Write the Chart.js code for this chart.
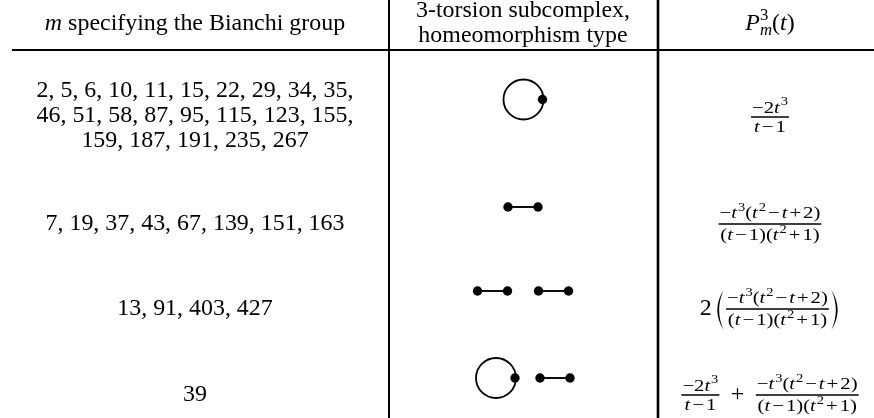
<!DOCTYPE html>
<html>
<head>
<meta charset="utf-8">
<script src="https://cdn.jsdelivr.net/npm/chart.js@4.4.1/dist/chart.umd.min.js"></script>
<style>
  html, body { margin: 0; padding: 0; background: #fff; }
  #wrap { width: 874px; height: 418px; }
</style>
</head>
<body>
<div id="wrap"><canvas id="myChart"></canvas></div>
<script>
// table content
const columnTitles = [
    ["$m$ specifying the Bianchi group"],
    ["3-torsion subcomplex,", "homeomorphism type"],
    ["$P_m^3(t)$"],
];
const bianchiM = [
    ["2, 5, 6, 10, 11, 15, 22, 29, 34, 35,", "46, 51, 58, 87, 95, 115, 123, 155,", "159, 187, 191, 235, 267"],
    ["7, 19, 37, 43, 67, 139, 151, 163"],
    ["13, 91, 403, 427"],
    ["39"],
];
const torsionTypes = [["loop"], ["edge"], ["edge", "edge"], ["loop", "edge"]];
const fracA = ["−2t^3", "t−1"];
const fracB = ["−t^3(t^2−t+2)", "(t−1)(t^2+1)"];
const poincareSeries = [
    [{ frac: fracA }],
    [{ frac: fracB }],
    [{ text: "2" }, { paren: fracB }],
    [{ frac: fracA }, { op: "+" }, { frac: fracB }],
];

// layout (in scale units, the scales run 0..874 and 0..418)
const W = 874, H = 418;
const L = {
    colRuleX: [389, 658],
    colRuleWidth: [2, 2.6],
    headRuleY: 50,
    headRuleX0: 12,
    colCenter: [195, 523, 770],
    headBaselines: [[30], [17, 42], [30]],
    rowTextBaselines: [[97, 122, 147], [230], [315], [401]],
    rowGraphY: [99.5, 207, 291, 378],
    rowBarY: [117, 224, 309, 395],
    loopR: 20,
    edgeLen: 30,
    gapAfter: { loop: 25, edge: 31 },
};
const MAIN = { size: 23, hs: 1.04, opPad: 0 };
const FR = { size: 17, hs: 1.22, opPad: 2, barPad: 1, nds: 1.5 };
const FONT = '"Liberation Serif", "Times New Roman", serif';

function fontOf(size, italic) {
    return (italic ? "italic " : "") + size + "px " + FONT;
}

// very small TeX-ish parser: $...$ is math, ^x sup, _x sub
function tokens(src, math) {
    const out = [];
    let i = 0;
    while (i < src.length) {
        let c = src[i];
        let level = 0;
        if (math && (c === "^" || c === "_")) {
            level = c === "^" ? 1 : -1;
            i++;
            c = src[i];
        }
        const prev = src[i - 1];
        out.push({
            ch: c,
            italic: math && /[A-Za-z]/.test(c),
            level: level,
            op: math && level === 0 && (c === "−" || c === "+") && i > 0 && prev !== "(",
        });
        i++;
    }
    return out;
}

function parseRich(src) {
    let res = [];
    src.split("$").forEach((p, k) => { res = res.concat(tokens(p, k % 2 === 1)); });
    return res;
}

function layoutRich(ctx, runs, size, hs, opPad) {
    const out = [];
    let x = 0;
    runs.forEach((r, k) => {
        const s = r.level ? size * 0.7 : size;
        ctx.font = fontOf(s, r.italic);
        const w = ctx.measureText(r.ch).width * hs;
        const prev = out[k - 1];
        if (r.level === 1 && prev && prev.level === -1) {
            out.push(Object.assign({}, r, { s: s, x: prev.x, dy: -size * 0.42 }));
            x = Math.max(x, prev.x + w);
            return;
        }
        const dy = r.level === 1 ? -size * 0.42 : r.level === -1 ? size * 0.22 : 0;
        if (r.level === 1 && prev && prev.italic && !prev.level) x += size * 0.05;
        const pad = r.op ? opPad : 0;
        out.push(Object.assign({}, r, { s: s, x: x + pad, dy: dy }));
        x += w + 2 * pad;
    });
    return { runs: out, width: x };
}

function drawRich(ctx, src, cx, base, st) {
    const lay = layoutRich(ctx, parseRich(src), st.size, st.hs, st.opPad);
    const x0 = cx - lay.width / 2;
    lay.runs.forEach(r => {
        ctx.font = fontOf(r.s, r.italic);
        ctx.save();
        ctx.translate(x0 + r.x, base + r.dy);
        ctx.scale(st.hs, 1);
        ctx.fillText(r.ch, 0, 0);
        ctx.restore();
    });
    return lay.width;
}

function fracParts(ctx, fr) {
    const num = layoutRich(ctx, parseRich("$" + fr[0] + "$"), FR.size, FR.hs, FR.opPad);
    const den = layoutRich(ctx, parseRich("$" + fr[1] + "$"), FR.size, FR.hs, FR.opPad);
    const hasParenNum = /[()]/.test(fr[0]);
    const supDen = /\^/.test(fr[1]);
    return {
        barW: Math.max(num.width, den.width) + 2 * FR.barPad,
        numShift: hasParenNum ? 6 : 4.5,
        denShift: supDen ? 16 : 15,
    };
}

function fracWidth(ctx, fr) {
    return fracParts(ctx, fr).barW + 2 * FR.nds;
}

function drawFrac(ctx, fr, left, bar) {
    const p = fracParts(ctx, fr);
    const cx = left + FR.nds + p.barW / 2;
    drawRich(ctx, "$" + fr[0] + "$", cx, bar - p.numShift, FR);
    drawRich(ctx, "$" + fr[1] + "$", cx, bar + p.denShift, FR);
    ctx.lineWidth = 1.3;
    ctx.beginPath();
    ctx.moveTo(left + FR.nds, bar);
    ctx.lineTo(left + FR.nds + p.barW, bar);
    ctx.stroke();
}

function drawParen(ctx, x, bar, left) {
    const w = 9, top = bar - 19, bot = bar + 21, mid = (top + bot) / 2;
    const sgn = left ? 1 : -1;
    const edge = left ? x + w : x;
    ctx.beginPath();
    ctx.moveTo(edge, top);
    ctx.quadraticCurveTo(edge - sgn * w * 1.4, mid, edge, bot);
    ctx.quadraticCurveTo(edge - sgn * w * 1.0, mid, edge, top);
    ctx.fill();
}

function itemWidth(ctx, it) {
    if (it.frac) return fracWidth(ctx, it.frac);
    if (it.paren) return 3 + 9 + 1 + fracWidth(ctx, it.paren) + 1 + 9;
    ctx.font = fontOf(MAIN.size, false);
    const w = ctx.measureText(it.text || it.op).width * MAIN.hs;
    return it.op ? w + 20 : w;
}

function drawFormula(ctx, items, cx, bar) {
    const widths = items.map(it => itemWidth(ctx, it));
    let x = cx - widths.reduce((a, b) => a + b, 0) / 2;
    items.forEach((it, i) => {
        if (it.frac) drawFrac(ctx, it.frac, x, bar);
        else if (it.paren) {
            drawParen(ctx, x + 3, bar, true);
            drawFrac(ctx, it.paren, x + 13, bar);
            drawParen(ctx, x + widths[i] - 9, bar, false);
        } else {
            drawRich(ctx, it.text || it.op, x + widths[i] / 2, bar + 5.5, MAIN);
        }
        x += widths[i];
    });
}

const tableText = {
    id: "tableText",
    afterDatasetsDraw(chart) {
        const ctx = chart.ctx;
        const xs = chart.scales.x, ys = chart.scales.y;
        ctx.save();
        ctx.fillStyle = "#000";
        ctx.strokeStyle = "#000";
        ctx.textBaseline = "alphabetic";
        columnTitles.forEach((lines, c) => {
            lines.forEach((ln, i) => {
                drawRich(ctx, ln, xs.getPixelForValue(L.colCenter[c]), ys.getPixelForValue(L.headBaselines[c][i]), MAIN);
            });
        });
        bianchiM.forEach((lines, r) => {
            lines.forEach((ln, i) => {
                drawRich(ctx, ln, xs.getPixelForValue(L.colCenter[0]), ys.getPixelForValue(L.rowTextBaselines[r][i]), MAIN);
            });
        });
        poincareSeries.forEach((items, r) => {
            drawFormula(ctx, items, xs.getPixelForValue(L.colCenter[2]), ys.getPixelForValue(L.rowBarY[r]));
        });
        ctx.restore();
    },
};

// datasets: table rules, then the graphs of the 3-torsion subcomplexes
const datasets = [];
function ruleSet(pts, width) {
    return { type: "line", data: pts, borderColor: "#000", borderWidth: width, pointRadius: 0, fill: false, order: 3 };
}
L.colRuleX.forEach((x, i) => datasets.push(ruleSet([{ x: x, y: 0 }, { x: x, y: H }], L.colRuleWidth[i])));
datasets.push(ruleSet([{ x: L.headRuleX0, y: L.headRuleY }, { x: W, y: L.headRuleY }], 2));

torsionTypes.forEach((parts, r) => {
    const y = L.rowGraphY[r];
    let w = 0;
    parts.forEach((p, k) => {
        w += p === "loop" ? 2 * L.loopR - 1 : L.edgeLen;
        if (k < parts.length - 1) w += L.gapAfter[p];
    });
    let x = L.colCenter[1] - w / 2;
    parts.forEach((p, k) => {
        if (p === "loop") {
            const cx = x + L.loopR;
            datasets.push({
                type: "scatter", data: [{ x: cx, y: y }], pointRadius: L.loopR, pointBorderWidth: 1.8,
                pointBorderColor: "#000", pointBackgroundColor: "rgba(0,0,0,0)", order: 2,
            });
            const vx = cx + L.loopR - 1;
            datasets.push({
                type: "scatter", data: [{ x: vx, y: y }], pointRadius: 4.7, pointBorderWidth: 0,
                pointBackgroundColor: "#000", order: 0,
            });
            x = vx;
        } else {
            datasets.push({
                type: "line", data: [{ x: x, y: y }, { x: x + L.edgeLen, y: y }], borderColor: "#000", borderWidth: 1.9,
                pointRadius: 4.7, pointBorderWidth: 0, pointBackgroundColor: "#000", fill: false, order: 1,
            });
            x += L.edgeLen;
        }
        if (k < parts.length - 1) x += L.gapAfter[p];
    });
});

new Chart(document.getElementById("myChart"), {
    type: "scatter",
    data: { datasets: datasets },
    options: {
        responsive: true,
        maintainAspectRatio: false,
        animation: false,
        events: [],
        layout: { padding: 0, autoPadding: false },
        scales: {
            x: { type: "linear", min: 0, max: W, display: false },
            y: { type: "linear", min: 0, max: H, reverse: true, display: false },
        },
        plugins: {
            legend: { display: false },
            tooltip: { enabled: false },
        },
    },
    plugins: [tableText],
});
</script>
</body>
</html>
